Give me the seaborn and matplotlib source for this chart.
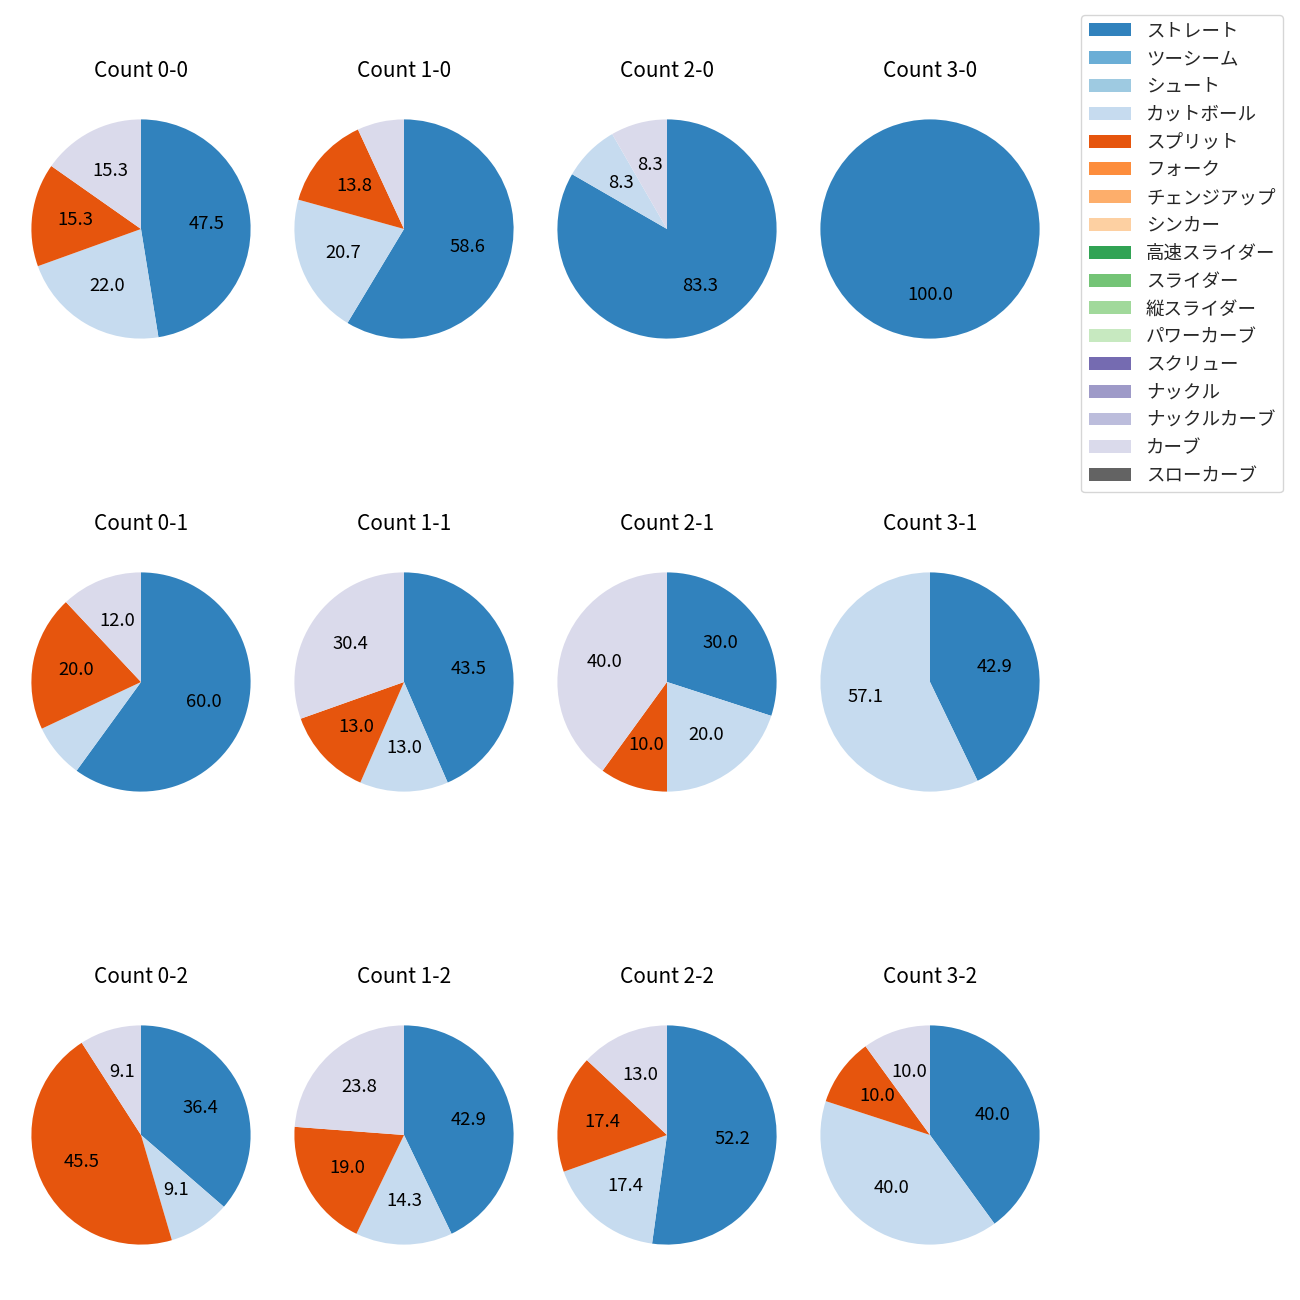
import matplotlib
matplotlib.use("Agg")
import matplotlib.pyplot as plt
import seaborn as sns
from matplotlib.patches import Patch

sns.set_theme(style="white")
plt.rcParams['font.family'] = ['Noto Sans CJK JP', 'DejaVu Sans']

pitch_types = ["ストレート", "ツーシーム", "シュート", "カットボール", "スプリット", "フォーク",
               "チェンジアップ", "シンカー", "高速スライダー", "スライダー", "縦スライダー",
               "パワーカーブ", "スクリュー", "ナックル", "ナックルカーブ", "カーブ", "スローカーブ"]
pitch_colors = ["#3182bd", "#6baed6", "#9ecae1", "#c6dbef", "#e6550d", "#fd8d3c",
                "#fdae6b", "#fdd0a2", "#31a354", "#74c476", "#a1d99b", "#c7e9c0",
                "#756bb1", "#9e9ac8", "#bcbddc", "#dadaeb", "#636363"]

# pitch counts per ball-strike count, order: ストレート, カットボール, スプリット, カーブ
used_types = ["ストレート", "カットボール", "スプリット", "カーブ"]
count_labels = ["0-0", "1-0", "2-0", "3-0",
                "0-1", "1-1", "2-1", "3-1",
                "0-2", "1-2", "2-2", "3-2"]
straight = [28, 17, 10, 1, 15, 10, 3, 3, 4, 9, 12, 4]
cutter   = [13, 6, 1, 0, 2, 3, 2, 4, 1, 3, 4, 4]
splitter = [9, 4, 0, 0, 5, 3, 1, 0, 5, 4, 4, 1]
curve    = [9, 2, 1, 0, 3, 7, 4, 0, 1, 5, 3, 1]

color_map = dict(zip(pitch_types, pitch_colors))

W, H = 1300, 1300
fig = plt.figure(figsize=(13, 13), dpi=100)

col_cx = [141, 404, 667, 930]
row_cy = [229, 682, 1135]
size = 274

def fmt(p):
    return f"{p:.1f}" if p >= 8.1 else ""

for i, lab in enumerate(count_labels):
    r, c = divmod(i, 4)
    cx, cy = col_cx[c], row_cy[r]
    ax = fig.add_axes([(cx - size / 2) / W, 1 - (cy + size / 2) / H, size / W, size / H])
    vals = [straight[i], cutter[i], splitter[i], curve[i]]
    names = [t for t, v in zip(used_types, vals) if v > 0]
    v = [x for x in vals if x > 0]
    cols = [color_map[n] for n in names]
    ax.pie(v, colors=cols, startangle=90, counterclock=False,
           wedgeprops={'linewidth': 0, 'edgecolor': 'none'},
           autopct=fmt, pctdistance=0.6, textprops={'fontsize': 13.3, 'color': 'black'})
    ax.set_title(f"Count {lab}", fontsize=15, pad=11, color='black')

handles = [Patch(facecolor=c, edgecolor='none', label=t) for t, c in zip(pitch_types, pitch_colors)]
fig.legend(handles=handles, loc='upper right', bbox_to_anchor=(1283 / W, 1 - 15 / H),
           borderaxespad=0, fontsize=13.3, frameon=True, handlelength=2.3,
           handletextpad=0.8, labelspacing=0.53)

fig.savefig("out.png", dpi=100)
